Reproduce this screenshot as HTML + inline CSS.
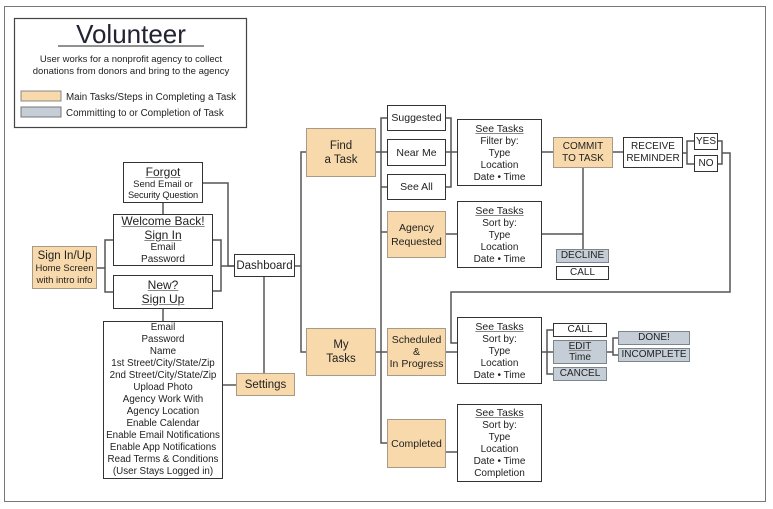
<!DOCTYPE html>
<html><head><meta charset="utf-8"><style>
body{margin:0;background:#fff;width:773px;height:509px;overflow:hidden;font-family:"Liberation Sans",Arial,sans-serif;color:#222}
.b{position:absolute;box-sizing:border-box;border:1.5px solid #333;background:#fff;display:flex;flex-direction:column;align-items:center;justify-content:center;text-align:center;font-size:10px;line-height:12px;z-index:2;white-space:nowrap}
.o{background:#f8d9ab;border-color:#a89a86}
.g{background:#c5ced6;border-color:#7d858c}
.t{font-size:12px;line-height:14px;text-decoration:underline;text-decoration-color:#888}
.lg{font-size:11.5px;line-height:14px}
svg{position:absolute;left:0;top:0;z-index:1}
</style></head><body>
<svg width="773" height="509">
<rect x="4.5" y="6.5" width="761" height="495" fill="none" stroke="#777" stroke-width="1"/>
<rect x="14.5" y="18.5" width="232" height="109" fill="none" stroke="#444" stroke-width="1.2"/>
<line x1="58" y1="46" x2="204" y2="46" stroke="#222" stroke-width="1"/>
<rect x="21" y="91" width="40" height="10" fill="#f8d9ab" stroke="#888"/>
<rect x="21" y="107" width="40" height="10" fill="#c5ced6" stroke="#777"/>
<g stroke="#555" stroke-width="1.5" fill="none">
<polyline points="203,183 228,183 228,266 234,266"/>
<polyline points="213,240 221,240 221,291 213,291"/>
<line x1="221" y1="266" x2="234" y2="266"/>
<polyline points="113,240 105,240 105,292 113,292"/>
<line x1="97" y1="268" x2="105" y2="268"/>
<line x1="163" y1="203" x2="163" y2="214"/>
<line x1="163" y1="309" x2="163" y2="321"/>
<line x1="223" y1="385" x2="236" y2="385"/>
<line x1="264" y1="277" x2="264" y2="373"/>
<line x1="295" y1="266" x2="301" y2="266"/>
<polyline points="306,152 301,152 301,352 306,352"/>
<line x1="376" y1="152" x2="381" y2="152"/>
<polyline points="387,118 381,118 381,443 387,443"/>
<line x1="381" y1="187" x2="387" y2="187"/>
<line x1="381" y1="152" x2="387" y2="152"/>
<line x1="381" y1="232" x2="387" y2="232"/>
<polyline points="446,118 451,118 451,187 446,187"/>
<line x1="446" y1="152" x2="457" y2="152"/>
<line x1="542" y1="152" x2="553" y2="152"/>
<line x1="613" y1="152" x2="623" y2="152"/>
<line x1="683" y1="153" x2="687" y2="153"/>
<polyline points="694,141 687,141 687,164 694,164"/>
<polyline points="718,141 722,141 722,164 718,164"/>
<polyline points="722,153 730,153 730,292 451,292 451,343 457,343"/>
<line x1="446" y1="234" x2="457" y2="234"/>
<polyline points="542,234 583,234"/>
<line x1="583" y1="168" x2="583" y2="249"/>
<line x1="376" y1="352" x2="387" y2="352"/>
<line x1="446" y1="352" x2="457" y2="352"/>
<line x1="542" y1="352" x2="547" y2="352"/>
<polyline points="553,330 547,330 547,374 553,374"/>
<line x1="547" y1="352" x2="553" y2="352"/>
<polyline points="618,338 613,338 613,355 618,355"/>
<line x1="607" y1="352" x2="613" y2="352"/>
<line x1="446" y1="452" x2="457" y2="452"/>
</g>
<text x="131" y="43" text-anchor="middle" font-family="Liberation Sans" font-size="26" fill="#223">Volunteer</text>
<text x="131" y="62" text-anchor="middle" font-family="Liberation Sans" font-size="9.5" fill="#222">User works for a nonprofit agency to collect</text>
<text x="131" y="74" text-anchor="middle" font-family="Liberation Sans" font-size="9.5" fill="#222">donations from donors and bring to the agency</text>
<text x="66" y="100" font-family="Liberation Sans" font-size="9.8" fill="#222">Main Tasks/Steps in Completing a Task</text>
<text x="66" y="116" font-family="Liberation Sans" font-size="9.8" fill="#222">Committing to or Completion of Task</text>
</svg>

<div class="b" style="left:123px;top:162px;width:80px;height:41px"><span class="t">Forgot</span><span style="font-size:9.5px;line-height:11px">Send Email or</span><span style="font-size:9.3px;line-height:11px;letter-spacing:-0.2px">Security Question</span></div>
<div class="b" style="left:113px;top:214px;width:100px;height:52px"><span class="t">Welcome Back!</span><span class="t">Sign In</span><span>Email</span><span>Password</span></div>
<div class="b" style="left:113px;top:275px;width:100px;height:34px"><span class="t">New?</span><span class="t">Sign Up</span></div>
<div class="b o" style="left:32px;top:246px;width:65px;height:43px"><span class="lg">Sign In/Up</span><span style="font-size:9.5px;line-height:12px">Home Screen</span><span style="font-size:9.5px;line-height:12px">with intro info</span></div>
<div class="b" style="left:234px;top:254px;width:61px;height:23px"><span class="lg">Dashboard</span></div>
<div class="b o" style="left:236px;top:373px;width:59px;height:23px"><span class="lg">Settings</span></div>
<div class="b" style="left:103px;top:321px;width:120px;height:158px;font-size:9.8px"><span>Email</span><span>Password</span><span>Name</span><span>1st Street/City/State/Zip</span><span>2nd Street/City/State/Zip</span><span>Upload Photo</span><span>Agency Work With</span><span>Agency Location</span><span>Enable Calendar</span><span>Enable Email Notifications</span><span>Enable App Notifications</span><span>Read Terms &amp; Conditions</span><span>(User Stays Logged in)</span></div>

<div class="b o" style="left:306px;top:128px;width:70px;height:49px"><span class="lg">Find</span><span class="lg">a Task</span></div>
<div class="b" style="left:387px;top:105px;width:59px;height:26px"><span class="lg" style="font-size:10.5px">Suggested</span></div>
<div class="b" style="left:387px;top:139px;width:59px;height:27px"><span class="lg" style="font-size:10.5px">Near Me</span></div>
<div class="b" style="left:387px;top:174px;width:59px;height:26px"><span class="lg" style="font-size:10.5px">See All</span></div>
<div class="b o" style="left:387px;top:211px;width:59px;height:47px"><span class="lg" style="font-size:10.5px">Agency</span><span class="lg" style="font-size:10.5px">Requested</span></div>
<div class="b" style="left:457px;top:119px;width:85px;height:67px"><span class="t" style="font-size:10.5px">See Tasks</span><span>Filter by:</span><span>Type</span><span>Location</span><span>Date • Time</span></div>
<div class="b" style="left:457px;top:201px;width:85px;height:67px"><span class="t" style="font-size:10.5px">See Tasks</span><span>Sort by:</span><span>Type</span><span>Location</span><span>Date • Time</span></div>
<div class="b o" style="left:553px;top:137px;width:60px;height:31px"><span>COMMIT</span><span>TO TASK</span></div>
<div class="b" style="left:623px;top:137px;width:60px;height:31px"><span>RECEIVE</span><span>REMINDER</span></div>
<div class="b" style="left:694px;top:133px;width:24px;height:17px"><span>YES</span></div>
<div class="b" style="left:694px;top:155px;width:24px;height:17px"><span>NO</span></div>
<div class="b g" style="left:556px;top:249px;width:53px;height:14px"><span>DECLINE</span></div>
<div class="b" style="left:556px;top:266px;width:53px;height:14px"><span>CALL</span></div>

<div class="b o" style="left:306px;top:328px;width:70px;height:48px"><span class="lg">My</span><span class="lg">Tasks</span></div>
<div class="b o" style="left:387px;top:328px;width:59px;height:48px"><span style="font-size:10.5px">Scheduled</span><span style="font-size:10.5px">&amp;</span><span style="font-size:10.5px">In Progress</span></div>
<div class="b" style="left:457px;top:317px;width:85px;height:67px"><span class="t" style="font-size:10.5px">See Tasks</span><span>Sort by:</span><span>Type</span><span>Location</span><span>Date • Time</span></div>
<div class="b o" style="left:387px;top:419px;width:59px;height:49px"><span style="font-size:10.5px">Completed</span></div>
<div class="b" style="left:457px;top:404px;width:85px;height:78px"><span class="t" style="font-size:10.5px">See Tasks</span><span>Sort by:</span><span>Type</span><span>Location</span><span>Date • Time</span><span>Completion</span></div>
<div class="b" style="left:553px;top:323px;width:54px;height:14px"><span>CALL</span></div>
<div class="b g" style="left:553px;top:340px;width:54px;height:24px"><span class="t" style="font-size:10px;line-height:11px">EDIT</span><span style="line-height:11px">Time</span></div>
<div class="b g" style="left:553px;top:367px;width:54px;height:14px"><span>CANCEL</span></div>
<div class="b g" style="left:618px;top:331px;width:72px;height:14px"><span>DONE!</span></div>
<div class="b g" style="left:618px;top:348px;width:72px;height:14px"><span>INCOMPLETE</span></div>
</body></html>
